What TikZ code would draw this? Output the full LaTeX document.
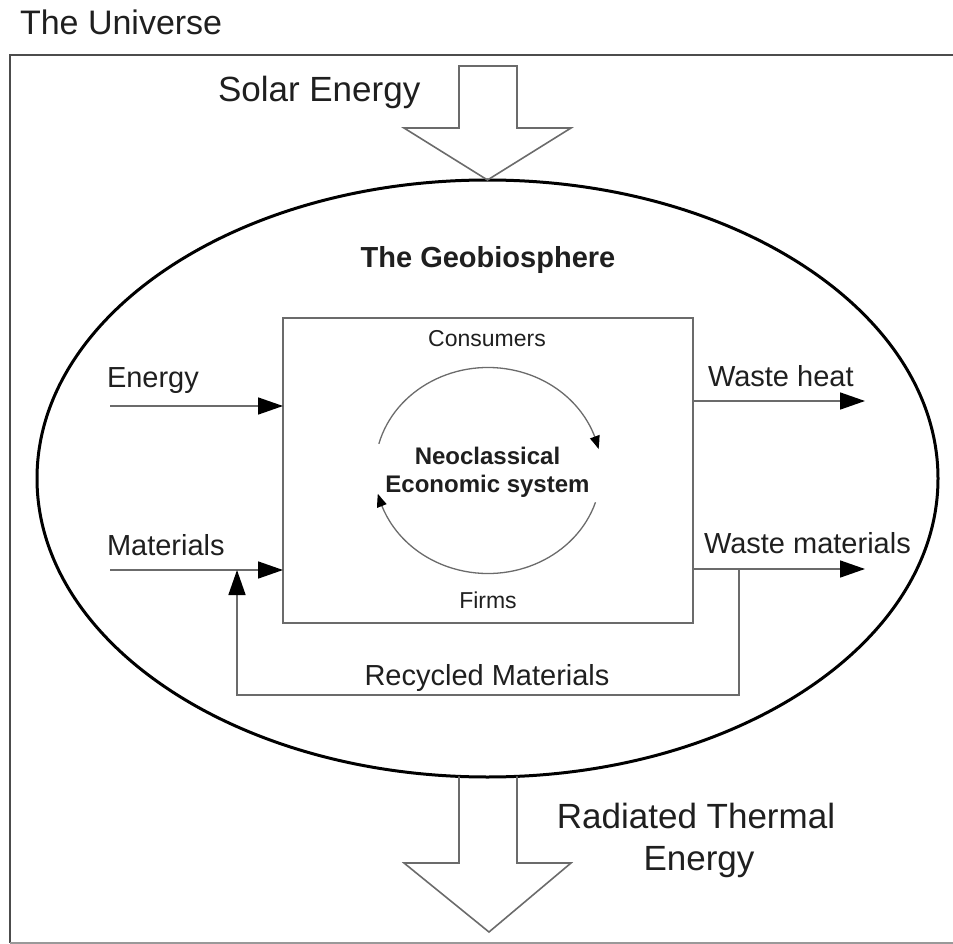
\documentclass[tikz,border=0pt]{standalone}
\usepackage{fontspec}
\setmainfont{Liberation Sans}
\usetikzlibrary{arrows.meta,shapes.geometric,bending}

\definecolor{linegray}{gray}{0.42}
\definecolor{inkcol}{gray}{0.12}
\newcommand\fsz[2]{\fontsize{#1}{#2}\selectfont}

\begin{document}
\begin{tikzpicture}[x=1pt,y=-1pt,
  thinline/.style={draw=linegray,line width=1.6pt},
  flow/.style={thinline,-{Triangle[length=25pt,width=17pt,color=black]}},
  cyc/.style={draw=linegray,line width=1.3pt,-{Triangle[length=13pt,width=10pt,color=black,bend]}},
  lbl/.style={inner sep=0pt,outer sep=0pt,text=inkcol},
  biglbl/.style={lbl,font=\fsz{35}{42}},
  midlbl/.style={lbl,font=\fsz{29}{34}},
  smalllbl/.style={lbl,font=\fsz{23}{28}}]

\useasboundingbox (0,0) rectangle (953,944);

% frame of the universe, open towards the right edge
\draw[line width=2.5pt,black!70] (953,55) -- (10,55) -- (10,942.5);
\draw[line width=2pt,black!40] (10,942.5) -- (953,942.5);
\node[lbl,font=\fsz{34}{40},anchor=base west] (universe) at (20,35) {The Universe};

% the geobiosphere
\node[ellipse,draw=black,line width=3pt,minimum width=901pt,minimum height=597pt,
      inner sep=0pt,outer sep=0pt] (geo) at (487.5,478.5) {};
\node[lbl,font=\fsz{29}{34}\bfseries,anchor=base] (geoname) at (488,267) {The Geobiosphere};

% incoming solar energy
\draw[thinline,line join=miter] (459,66) -- (517,66) -- (517,128) -- (571,128)
  -- (geo.north) -- (404,128) -- (459,128) -- cycle;
\node[biglbl,anchor=base west] (solar) at (218,102) {Solar Energy};

% outgoing radiated thermal energy
\draw[thinline,line join=miter] (459,776.4) -- (459,863) -- (404,863) -- (489,932)
  -- (571,863) -- (517,863) -- (517,776.4);
\node[biglbl,anchor=base] (rad1) at (696,828) {Radiated Thermal};
\node[biglbl,anchor=base] (rad2) at (699,870) {Energy};

% the economic system
\node[draw=linegray,line width=1.6pt,minimum width=410pt,minimum height=305pt,
      inner sep=0pt,outer sep=0pt] (econ) at (488,470.5) {};
\node[smalllbl,anchor=base] (consumers) at (487,346) {Consumers};
\node[smalllbl,anchor=base] (firms) at (488,608) {Firms};
\node[lbl,font=\fsz{24}{28}\bfseries,anchor=base] (neo1) at (487.5,464) {Neoclassical};
\node[lbl,font=\fsz{24}{28}\bfseries,anchor=base] (neo2) at (487.5,492) {Economic system};

% circular flow between consumers and firms
\coordinate (cc) at (488,470.5);
\draw[cyc] (cc) ++(165:113pt and 103pt)
  arc[start angle=165,end angle=12,x radius=113pt,y radius=103pt];
\draw[cyc] (cc) ++(-18:113pt and 103pt)
  arc[start angle=-18,end angle=-167,x radius=113pt,y radius=103pt];

% inputs
\coordinate (energyin) at (110,406);
\coordinate (matin) at (110,570);
\draw[flow] (energyin) -- (energyin -| econ.west);
\draw[flow] (matin) -- (matin -| econ.west);
\node[midlbl,anchor=base west] (energy) at (107,387) {Energy};
\node[midlbl,anchor=base west] (materials) at (107,555) {Materials};

% outputs
\coordinate (heatout) at (865,401);
\coordinate (wasteout) at (865,569);
\draw[flow] (heatout -| econ.east) -- (heatout);
\draw[flow] (wasteout -| econ.east) -- (wasteout);
\node[midlbl,anchor=base west] (heat) at (708,386) {Waste heat};
\node[midlbl,anchor=base west] (waste) at (704,553) {Waste materials};

% recycling loop
\coordinate (recA) at (739,569);
\coordinate (recB) at (237,695);
\draw[flow,line join=miter] (recA) -- (recA |- recB) -- (recB) -- (recB |- matin);
\node[midlbl,anchor=base] (recycled) at (487,685) {Recycled Materials};

\end{tikzpicture}
\end{document}
